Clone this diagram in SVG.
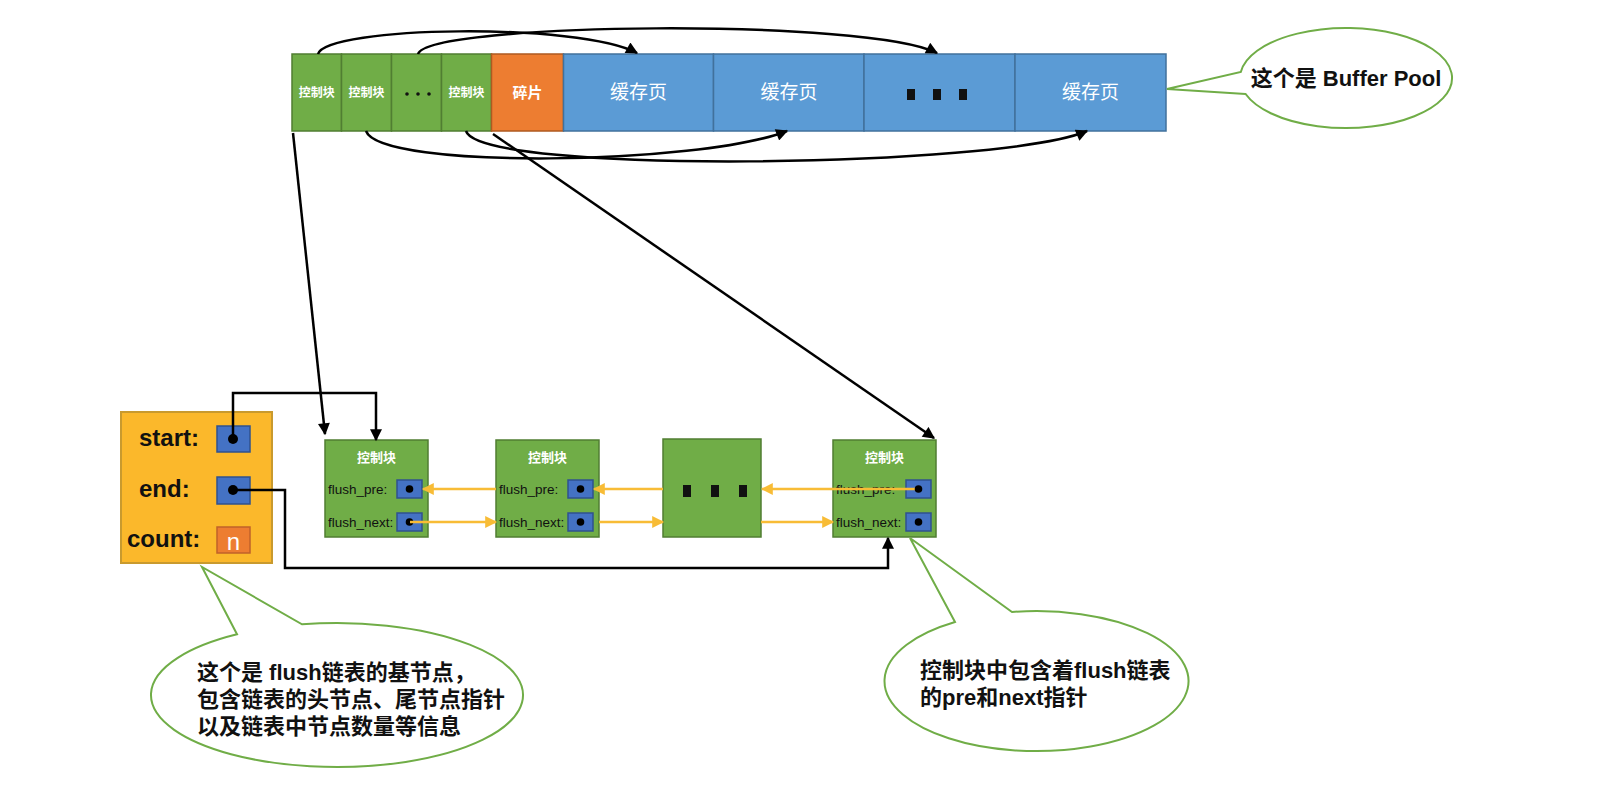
<svg xmlns="http://www.w3.org/2000/svg" width="1603" height="786" viewBox="0 0 1603 786">
<defs>
<style>
.cjk{font-family:"Liberation Sans","Noto Sans CJK SC",sans-serif}
.cell-g{fill:#70AD47;stroke:#507E32;stroke-width:1.5}
.cell-o{fill:#ED7D31;stroke:#AE5A21;stroke-width:1.5}
.cell-b{fill:#5B9BD5;stroke:#41719C;stroke-width:1.5}
.ptr{fill:#4472C4;stroke:#2F528F;stroke-width:1.5}
.wt{fill:#fff}
.lbl{font-size:13.5px;fill:#111}
.blk{stroke:#000;stroke-width:2.5;fill:none}
.yel{stroke:#F8BC36;stroke-width:2.5;fill:none}
.bubble{fill:#fff;stroke:#70AD47;stroke-width:2}
.btxt{font-size:22px;font-weight:bold;fill:#111}
</style>
<marker id="ab" viewBox="0 0 10 10" refX="9" refY="5" markerWidth="14" markerHeight="12" markerUnits="userSpaceOnUse" orient="auto"><path d="M0,0 L10,5 L0,10 z" fill="#000"/></marker>
<marker id="ay" viewBox="0 0 10 10" refX="9" refY="5" markerWidth="13" markerHeight="12" markerUnits="userSpaceOnUse" orient="auto"><path d="M0,0 L10,5 L0,10 z" fill="#F8BC36"/></marker>
</defs>
<rect width="1603" height="786" fill="#fff"/>

<g id="buffer-pool">
<rect class="cell-g" x="292" y="54" width="49.5" height="77"/>
<rect class="cell-g" x="341.5" y="54" width="50" height="77"/>
<rect class="cell-g" x="391.5" y="54" width="50" height="77"/>
<rect class="cell-g" x="441.5" y="54" width="50" height="77"/>
<rect class="cell-o" x="491.5" y="54" width="72" height="77"/>
<rect class="cell-b" x="563.5" y="54" width="150" height="77"/>
<rect class="cell-b" x="713.5" y="54" width="150.5" height="77"/>
<rect class="cell-b" x="864" y="54" width="151" height="77"/>
<rect class="cell-b" x="1015" y="54" width="151" height="77"/>
<g class="cjk" font-weight="bold" font-size="12" fill="#fff" text-anchor="middle">
<text x="316.7" y="97">控制块</text>
<text x="366.5" y="97">控制块</text>
<text x="466.5" y="97">控制块</text>
</g>
<circle cx="407" cy="94" r="1.8" fill="#111"/>
<circle cx="418" cy="94" r="1.8" fill="#111"/>
<circle cx="429" cy="94" r="1.8" fill="#111"/>
<text class="cjk" x="527.5" y="98" font-size="15" font-weight="bold" fill="#fff" text-anchor="middle">碎片</text>
<g class="cjk" font-size="19" fill="#fff" text-anchor="middle">
<text x="638.5" y="99">缓存页</text>
<text x="789" y="99">缓存页</text>
<text x="1090.5" y="99">缓存页</text>
</g>
<rect x="907" y="89" width="8" height="11" fill="#111"/>
<rect x="933" y="89" width="8" height="11" fill="#111"/>
<rect x="959" y="89" width="8" height="11" fill="#111"/>
</g>

<g id="bubble-buffer-pool">
<path class="bubble" d="M1245.6,94 L1167,89 L1240.8,72 A106,50 0 1 1 1245.6,94 Z"/>
<text class="cjk btxt" x="1346" y="86" text-anchor="middle">这个是 Buffer Pool</text>
</g>

<g id="base-node">
<rect x="121" y="412" width="151" height="151" fill="#FBB82B" stroke="#C99A2E" stroke-width="2"/>
<g class="cjk" font-size="24" font-weight="bold" fill="#111">
<text x="139" y="446">start:</text>
<text x="139" y="497">end:</text>
<text x="127" y="547">count:</text>
</g>
<rect class="ptr" x="217" y="426" width="33" height="26"/>
<rect class="ptr" x="217" y="477" width="33" height="27"/>
<rect x="217" y="527" width="33" height="26" fill="#ED7D31" stroke="#C0622A" stroke-width="1.5"/>
<text class="cjk" x="233.5" y="550" font-size="24" fill="#fff" text-anchor="middle">n</text>
<circle cx="233" cy="439" r="5" fill="#000"/>
<circle cx="233" cy="490" r="5" fill="#000"/>
</g>

<g id="ctrl-1">
<rect class="cell-g" x="325" y="440" width="103" height="97"/>
<text class="cjk" x="376.5" y="462" font-size="13" font-weight="bold" fill="#fff" text-anchor="middle">控制块</text>
<text class="cjk lbl" x="328" y="494">flush_pre:</text>
<text class="cjk lbl" x="328" y="527">flush_next:</text>
<rect class="ptr" x="397" y="480" width="25" height="18"/>
<rect class="ptr" x="397" y="513" width="25" height="18"/>
<circle cx="409.5" cy="489" r="3.8" fill="#000"/>
<circle cx="409.5" cy="522" r="3.8" fill="#000"/>
</g>

<g id="ctrl-2">
<rect class="cell-g" x="496" y="440" width="103" height="97"/>
<text class="cjk" x="547.5" y="462" font-size="13" font-weight="bold" fill="#fff" text-anchor="middle">控制块</text>
<text class="cjk lbl" x="499" y="494">flush_pre:</text>
<text class="cjk lbl" x="499" y="527">flush_next:</text>
<rect class="ptr" x="568" y="480" width="25" height="18"/>
<rect class="ptr" x="568" y="513" width="25" height="18"/>
<circle cx="580.5" cy="489" r="3.8" fill="#000"/>
<circle cx="580.5" cy="522" r="3.8" fill="#000"/>
</g>

<g id="ctrl-more">
<rect class="cell-g" x="663" y="439" width="98" height="98"/>
<rect x="683" y="485" width="8" height="12" fill="#111"/>
<rect x="711" y="485" width="8" height="12" fill="#111"/>
<rect x="739" y="485" width="8" height="12" fill="#111"/>
</g>

<g id="ctrl-last">
<rect class="cell-g" x="833" y="440" width="103" height="97"/>
<text class="cjk" x="884.5" y="462" font-size="13" font-weight="bold" fill="#fff" text-anchor="middle">控制块</text>
<text class="cjk lbl" x="836" y="494">flush_pre:</text>
<text class="cjk lbl" x="836" y="527">flush_next:</text>
<rect class="ptr" x="906" y="480" width="25" height="18"/>
<rect class="ptr" x="906" y="513" width="25" height="18"/>
<circle cx="918.5" cy="522" r="3.8" fill="#000"/>
</g>

<g id="connectors">
<path class="blk" d="M318,54 C326,26 580,22 637,53" marker-end="url(#ab)"/>
<path class="blk" d="M418,54 C428,22 870,18 937,53" marker-end="url(#ab)"/>
<path class="blk" d="M366,131 C380,170 700,165 787,131" marker-end="url(#ab)"/>
<path class="blk" d="M466,131 C480,175 1000,168 1087,131" marker-end="url(#ab)"/>
<path class="blk" d="M293,133 L325,434" marker-end="url(#ab)"/>
<path class="blk" d="M493,134 L934,438" marker-end="url(#ab)"/>
<path class="blk" d="M233,439 V393 H376 V440" marker-end="url(#ab)"/>
<path class="blk" d="M233,490 H285 V568 H888 V538" marker-end="url(#ab)"/>
<path class="yel" d="M496,489 H423" marker-end="url(#ay)"/>
<path class="yel" d="M663,489 H594" marker-end="url(#ay)"/>
<path class="yel" d="M918,489 H762" marker-end="url(#ay)"/>
<circle cx="918.5" cy="489" r="3.8" fill="#000"/>
<path class="yel" d="M410,522 H496" marker-end="url(#ay)"/>
<path class="yel" d="M599,522 H663" marker-end="url(#ay)"/>
<path class="yel" d="M761,522 H833" marker-end="url(#ay)"/>
</g>

<g id="bubble-base">
<path class="bubble" d="M237,634.3 L202,567 L302,624.3 A186,72 0 1 1 237,634.3 Z"/>
<g class="cjk btxt">
<text x="197" y="680">这个是 flush链表的基节点，</text>
<text x="197" y="707">包含链表的头节点、尾节点指针</text>
<text x="197" y="734">以及链表中节点数量等信息</text>
</g>
</g>

<g id="bubble-ctrl">
<path class="bubble" d="M955,622 L910,538 L1012,612 A152,70 0 1 1 955,622 Z"/>
<g class="cjk btxt">
<text x="920" y="678">控制块中包含着flush链表</text>
<text x="920" y="705">的pre和next指针</text>
</g>
</g>
</svg>
